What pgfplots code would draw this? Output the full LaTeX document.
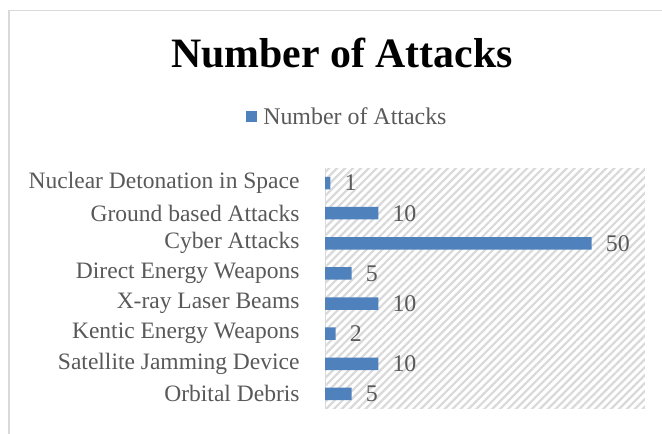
\documentclass[border=0pt]{standalone}
\usepackage{fontspec}
\setmainfont{Liberation Serif}
\usepackage{pgfplots}
\pgfplotsset{compat=1.18}
\usetikzlibrary{patterns.meta}
\definecolor{barblue}{RGB}{79,129,189}
\definecolor{labelgray}{RGB}{89,89,89}
\definecolor{hatchgray}{RGB}{217,217,217}
\definecolor{framegray}{RGB}{217,217,217}
\begin{document}
\begin{tikzpicture}
\useasboundingbox (0,0) rectangle (662bp,434bp);
\fill[white] (0,0) rectangle (662bp,434bp);
\draw[framegray, line width=1.2bp] (9bp,-20bp) -- (9bp,423.5bp) -- (680bp,423.5bp);
\begin{axis}[
  at={(325bp,25bp)}, anchor=south west,
  width=320bp, height=241bp, scale only axis,
  xbar, bar width=12.5bp,
  xmin=0, xmax=60,
  ymin=-0.5, ymax=7.5,
  ytick={0,...,7},
  yticklabels={Orbital Debris,Satellite Jamming Device,Kentic Energy Weapons,X-ray Laser Beams,Direct Energy Weapons,Cyber Attacks,Ground based Attacks,Nuclear Detonation in Space},
  /pgf/number format/assume math mode=true,
  separate axis lines,
  axis x line=none,
  axis y line*=left,
  y axis line style={draw=hatchgray, line width=1bp, -},
  ytick style={draw=none},
  yticklabel style={font=\fontsize{23.6}{24}\selectfont, text=labelgray, inner sep=0pt, anchor=east, xshift=-21bp},
  axis background/.style={pattern={Lines[angle=45,distance=5.6bp,line width=2.2bp]}, pattern color=hatchgray},
  nodes near coords,
  every node near coord/.append style={font=\fontsize{24}{24}\selectfont, text=labelgray, anchor=west, inner sep=0pt, xshift=14bp},
  legend style={at={(rel axis cs:0.07,1.212)}, anchor=center, draw=none, fill=none, font=\fontsize{24}{24}\selectfont, text=labelgray, inner sep=0pt, /tikz/every odd column/.append style={column sep=4bp}},
  legend image code/.code={\fill[barblue] (0bp,-5.5bp) rectangle (11bp,5.5bp);},
  clip=false,
]
\addplot[fill=barblue, draw=none] coordinates {
  (5,0) (10,1) (2,2) (10,3) (5,4) (50,5) (10,6) (1,7)
};
\addlegendentry{Number of Attacks}
\end{axis}
\node[anchor=base, font=\fontsize{42}{42}\selectfont\bfseries] at (342bp,366bp) {Number of Attacks};
\end{tikzpicture}
\end{document}
